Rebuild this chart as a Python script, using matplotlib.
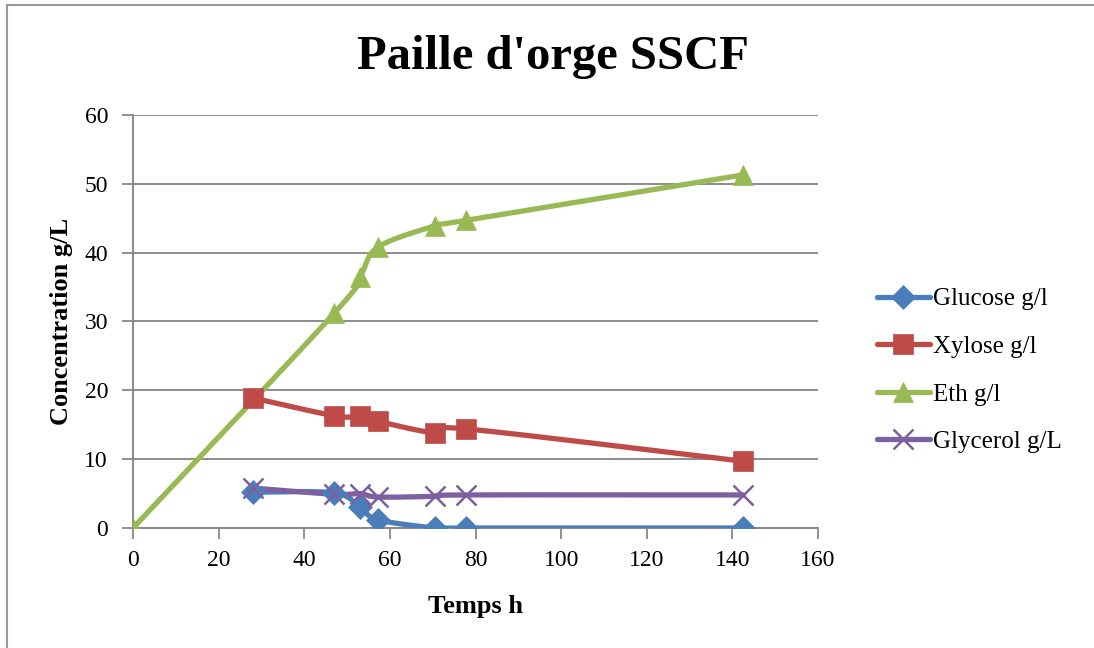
import numpy as np
import matplotlib
matplotlib.use("Agg")
import matplotlib.pyplot as plt
from matplotlib.patches import Rectangle

# Data
temps = [28, 47, 53, 57.2, 70.6, 77.8, 142.5]
glucose = [5.2, 5.1, 3.0, 1.2, 0.0, 0.0, 0.0]
xylose = [18.9, 16.3, 16.2, 15.5, 13.8, 14.4, 9.7]
eth_temps = [0, 47, 53, 57.2, 70.6, 77.8, 142.5]
eth = [0.0, 31.2, 36.5, 40.8, 43.9, 44.7, 51.3]
glycerol = [5.8, 4.9, 5.0, 4.5, 4.6, 4.8, 4.8]

x_ticks = [0, 20, 40, 60, 80, 100, 120, 140, 160]
y_ticks = [0, 10, 20, 30, 40, 50, 60]


def lisse(x, y, n=30):
    # Catmull-Rom pour imiter la courbe lissée d'Excel
    x = np.asarray(x, float)
    y = np.asarray(y, float)
    px = np.concatenate(([x[0]], x, [x[-1]]))
    py = np.concatenate(([y[0]], y, [y[-1]]))
    xs, ys = [], []
    for i in range(1, len(px) - 2):
        t = np.linspace(0, 1, n)
        for arr, out in ((px, xs), (py, ys)):
            p0, p1, p2, p3 = arr[i - 1], arr[i], arr[i + 1], arr[i + 2]
            out.extend(0.5 * ((2 * p1) + (-p0 + p2) * t
                              + (2 * p0 - 5 * p1 + 4 * p2 - p3) * t ** 2
                              + (-p0 + 3 * p1 - 3 * p2 + p3) * t ** 3))
    return xs, ys


plt.rcParams['font.family'] = ['Liberation Serif', 'DejaVu Serif']

fig = plt.figure(figsize=(10.94, 6.48), dpi=100)
fig.patches.append(Rectangle((7 / 1094, -0.01), 1.0, 1 - 5 / 648 + 0.01,
                             transform=fig.transFigure, fill=False,
                             edgecolor="#999999", linewidth=1.5))

ax = fig.add_axes([133 / 1094, 1 - 528 / 648, 685 / 1094, 413 / 648])

series = [
    ("Glucose g/l", temps, glucose, "#4A7EBB", "D", 12),
    ("Xylose g/l", temps, xylose, "#BE4B48", "s", 14),
    ("Eth g/l", eth_temps, eth, "#98B954", "^", 15),
    ("Glycerol g/L", temps, glycerol, "#7D60A0", "x", 14),
]

for nom, xs, ys, couleur, marqueur, taille in series:
    sx, sy = lisse(xs, ys)
    mew = 1.8 if marqueur == "x" else 0.5
    ax.plot(sx, sy, color=couleur, linewidth=3.8, solid_capstyle="round", zorder=3)
    ax.plot(xs, ys, linestyle="none", marker=marqueur, markersize=taille,
            color=couleur, markeredgewidth=mew, zorder=4)
    ax.plot([], [], color=couleur, linewidth=3.8, marker=marqueur, markersize=taille,
            markeredgewidth=mew, solid_capstyle="round", label=nom)

ax.set_xlim(0, 160)
ax.set_ylim(0, 60)
ax.set_xticks(x_ticks)
ax.set_yticks(y_ticks)
ax.tick_params(axis="both", labelsize=17, color="#888888", length=8, width=1.3)
ax.tick_params(axis="x", pad=8)
ax.tick_params(axis="y", pad=10)
ax.grid(axis="y", color="#8c8c8c", linewidth=1.4)
ax.set_axisbelow(True)
for s in ("top", "right"):
    ax.spines[s].set_visible(False)
for s in ("left", "bottom"):
    ax.spines[s].set_color("#888888")
    ax.spines[s].set_linewidth(1.4)

ax.set_xlabel("Temps h", fontsize=19, fontweight="bold", labelpad=17)
ax.set_ylabel("Concentration g/L", fontsize=19, fontweight="bold", labelpad=8)
fig.text(553 / 1094, 1 - 57 / 648, "Paille d'orge SSCF", fontsize=35,
         fontweight="bold", ha="center", va="center")

fig.legend(loc="upper left", bbox_to_anchor=(867 / 1094, 1 - 278 / 648),
           frameon=False, fontsize=18, handlelength=2.1, handletextpad=0.15,
           labelspacing=1.0, borderaxespad=0)

fig.savefig("out.png", dpi=100)
